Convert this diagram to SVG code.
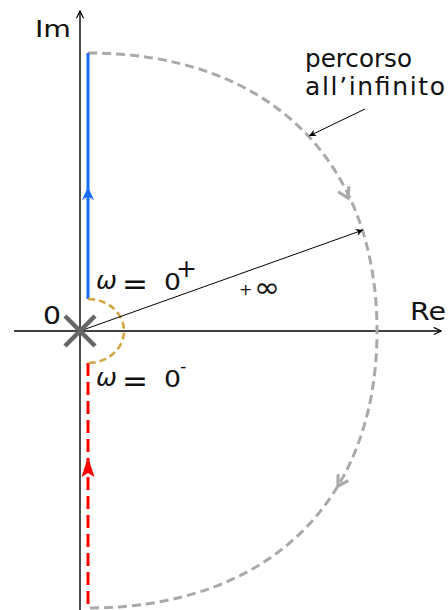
<svg xmlns="http://www.w3.org/2000/svg" width="448" height="610" viewBox="0 0 448 610">
<style>
text{font-family:"DejaVu Sans","Liberation Sans",sans-serif;fill:#111}
.axis{stroke:#000;stroke-width:1.4;fill:none}
.thin{stroke:#000;stroke-width:1;fill:none}
.inf{stroke:#aaa;stroke-width:3;fill:none;stroke-dasharray:9 5}
.gold{stroke:#d2a540;stroke-width:2.6;fill:none;stroke-dasharray:7 4}
.blue{stroke:#1a6ef5;stroke-width:3;fill:none}
.red{stroke:#ff0000;stroke-width:3;fill:none;stroke-dasharray:13 6}
</style>
<defs>
<marker id="ah" viewBox="0 0 10 10" refX="9" refY="5" markerWidth="9" markerHeight="9" markerUnits="userSpaceOnUse" orient="auto">
<path d="M1,1 L9,5 L1,9" fill="none" stroke="#000" stroke-width="1.3"/>
</marker>
<marker id="ahs" viewBox="0 0 10 10" refX="10" refY="5" markerWidth="9" markerHeight="7" markerUnits="userSpaceOnUse" orient="auto">
<path d="M0,0 L10,5 L0,10 L3,5 Z" fill="#000"/>
</marker>
<path id="chev" d="M-10,-6 L0,0 L-10,6" fill="none" stroke="#aaa" stroke-width="3.2" stroke-linejoin="miter"/>
</defs>
<g id="connectors">
<line class="axis" x1="14" y1="331" x2="441" y2="331" marker-end="url(#ah)"/>
<line class="axis" x1="80" y1="610" x2="80" y2="11" marker-end="url(#ah)"/>
<path class="inf" d="M88,53 C267.2,53 377,158.6 377,331 C377,502.7 267.2,608 88,608"/>
<use href="#chev" transform="translate(348,198) rotate(63.4)"/>
<use href="#chev" transform="translate(338,486) rotate(121.5)"/>
<line class="blue" x1="88" y1="53" x2="88" y2="299"/>
<path d="M88,187 L94,200 L88,196.5 L82,200 Z" fill="#1a6ef5"/>
<line class="red" x1="88" y1="363" x2="88" y2="610"/>
<path d="M88,457 L94.5,477 L88,473 L81.5,477 Z" fill="#ff0000"/>
<path class="gold" d="M88,299 A36,32 0 0,1 88,363"/>
<line class="thin" x1="80" y1="331" x2="363" y2="230" marker-end="url(#ahs)"/>
<line class="thin" x1="365" y1="109" x2="309" y2="136" marker-end="url(#ahs)"/>
</g>
<g id="origin">
<path d="M65,316 L95,346 M95,316 L65,346" stroke="#666" stroke-width="4.5" fill="none"/>
<text x="43" y="324" font-size="24" textLength="18" lengthAdjust="spacingAndGlyphs">0</text>
</g>
<g id="label-im"><text x="35" y="37" font-size="23" textLength="36" lengthAdjust="spacingAndGlyphs">Im</text></g>
<g id="label-re"><text x="410" y="320" font-size="24" textLength="36" lengthAdjust="spacingAndGlyphs">Re</text></g>
<g id="label-omega-plus">
<text x="96" y="289" font-size="25" font-style="italic">ω</text>
<text x="122" y="294" font-size="31">=</text>
<text x="164" y="290" font-size="23" textLength="17" lengthAdjust="spacingAndGlyphs">0</text>
<text x="176" y="277" font-size="25">+</text>
</g>
<g id="label-omega-minus">
<text x="96" y="386" font-size="25" font-style="italic">ω</text>
<text x="122" y="391" font-size="31">=</text>
<text x="164" y="387" font-size="23" textLength="17" lengthAdjust="spacingAndGlyphs">0</text>
<text x="180" y="372" font-size="18">-</text>
</g>
<g id="label-inf">
<text x="239" y="295" font-size="16">+</text>
<text x="254" y="297" font-size="28" textLength="26" lengthAdjust="spacingAndGlyphs">∞</text>
</g>
<g id="label-percorso">
<text x="305" y="67" font-size="25" textLength="107" lengthAdjust="spacingAndGlyphs">percorso</text>
<text x="305" y="95" font-size="25" textLength="140" lengthAdjust="spacing">all’infinito</text>
</g>
</svg>
